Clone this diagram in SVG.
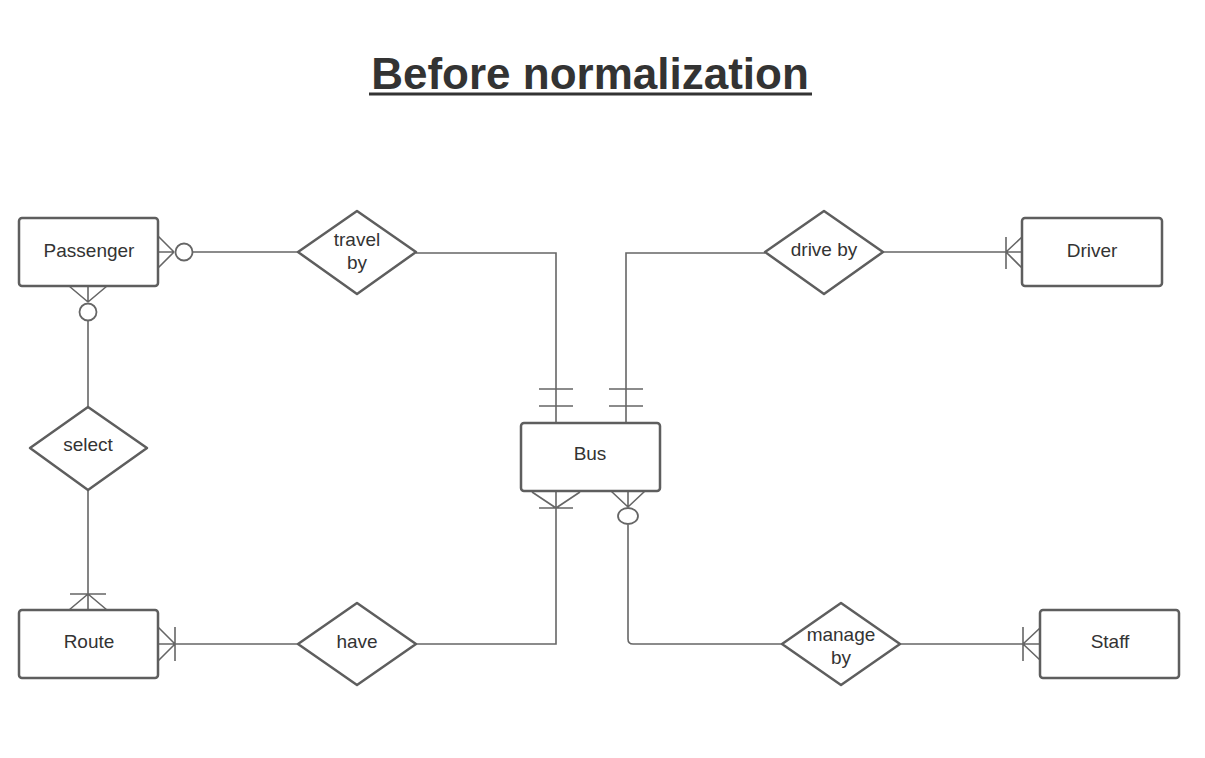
<svg xmlns="http://www.w3.org/2000/svg" width="1205" height="758" viewBox="0 0 1205 758">
<style>
.ent{fill:#fff;stroke:#5e5e5e;stroke-width:2.5}
.rel{fill:#fff;stroke:#5e5e5e;stroke-width:2.5;stroke-linejoin:round}
.lbl{font-family:"Liberation Sans",Arial,sans-serif;font-size:19px;fill:#333;text-anchor:middle}
.c{fill:none;stroke:#666;stroke-width:1.6}
.o{fill:#fff;stroke:#666;stroke-width:1.8}
</style>
<rect width="1205" height="758" fill="#fff"/>
<text x="590" y="89" font-family="Liberation Sans,Arial,sans-serif" font-size="44" font-weight="bold" fill="#333" text-anchor="middle">Before normalization</text>
<line x1="369" y1="94" x2="812" y2="94" stroke="#333" stroke-width="3"/>

<g id="connectors">
<!-- Passenger - travel by -->
<path class="c" d="M158 236 L174 252 M158 252 L174 252 M158 268 L174 252 M193 252 L298 252"/>
<circle class="o" cx="184" cy="252" r="8.5"/>
<!-- travel by - Bus -->
<path class="c" d="M416 253 L556 253 L556 423 M539 389 L573 389 M539 406 L573 406"/>
<!-- drive by - Bus -->
<path class="c" d="M765 253 L626 253 L626 423 M609 389 L643 389 M609 406 L643 406"/>
<!-- drive by - Driver -->
<path class="c" d="M883 252 L1022 252 M1006 252 L1022 237 M1006 252 L1022 268 M1006 237 L1006 269"/>
<!-- Passenger - select -->
<path class="c" d="M69 286 L88 302 M88 286 L88 302 M107 286 L88 302 M88 321 L88 407"/>
<circle class="o" cx="88" cy="312" r="8.5"/>
<!-- select - Route -->
<path class="c" d="M88 490 L88 610 M70 594 L106 594 M88 594 L69 610 M88 594 L107 610"/>
<!-- Route - have -->
<path class="c" d="M158 644 L298 644 M158 627 L175 644 M158 661 L175 644 M175 627 L175 661"/>
<!-- have - Bus -->
<path class="c" d="M416 644 L556 644 L556 491 M532 492 L556 508 M580 492 L556 508 M539 508 L573 508"/>
<!-- Bus - manage by -->
<path class="c" d="M611 491 L628 507 M645 491 L628 507 M628 491 L628 507 M628 525 L628 639 Q628 644 633 644 L782 644"/>
<ellipse class="o" cx="628" cy="516" rx="10" ry="8"/>
<!-- manage by - Staff -->
<path class="c" d="M900 644 L1040 644 M1023 644 L1040 628 M1023 644 L1040 660 M1023 627 L1023 661"/>
</g>

<g id="passenger">
<rect class="ent" x="19" y="218" width="139" height="68" rx="3"/>
<text class="lbl" x="89" y="257">Passenger</text>
</g>
<g id="travel-by">
<polygon class="rel" points="357,211 416,252 357,294 298,252"/>
<text class="lbl" x="357" y="246">travel</text>
<text class="lbl" x="357" y="269">by</text>
</g>
<g id="bus">
<rect class="ent" x="521" y="423" width="139" height="68" rx="3"/>
<text class="lbl" x="590" y="460">Bus</text>
</g>
<g id="drive-by">
<polygon class="rel" points="824,211 883,252 824,294 765,252"/>
<text class="lbl" x="824" y="256">drive by</text>
</g>
<g id="driver">
<rect class="ent" x="1022" y="218" width="140" height="68" rx="3"/>
<text class="lbl" x="1092" y="257">Driver</text>
</g>
<g id="select">
<polygon class="rel" points="88,407 147,448 88,490 30,448"/>
<text class="lbl" x="88" y="451">select</text>
</g>
<g id="route">
<rect class="ent" x="19" y="610" width="139" height="68" rx="3"/>
<text class="lbl" x="89" y="648">Route</text>
</g>
<g id="have">
<polygon class="rel" points="357,603 416,644 357,685 298,644"/>
<text class="lbl" x="357" y="648">have</text>
</g>
<g id="manage-by">
<polygon class="rel" points="841,603 900,644 841,685 782,644"/>
<text class="lbl" x="841" y="641">manage</text>
<text class="lbl" x="841" y="664">by</text>
</g>
<g id="staff">
<rect class="ent" x="1040" y="610" width="139" height="68" rx="3"/>
<text class="lbl" x="1110" y="648">Staff</text>
</g>
</svg>
